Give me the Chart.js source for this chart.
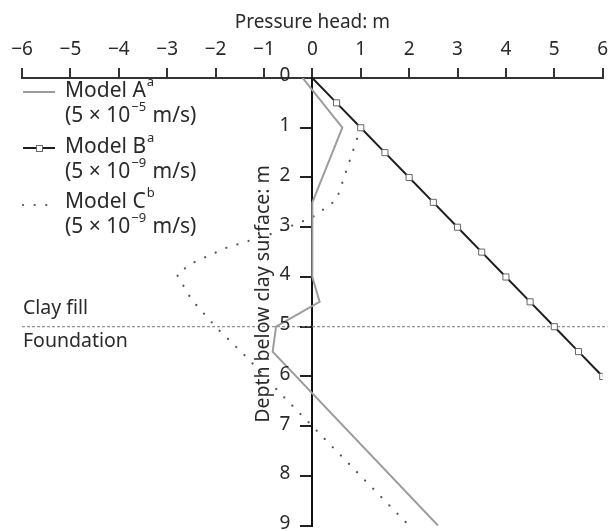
<!DOCTYPE html>
<html><head><meta charset="utf-8">
<script src="https://cdn.jsdelivr.net/npm/chart.js@4/dist/chart.umd.min.js"></script>
<style>html,body{margin:0;padding:0;background:#fff}#wrap{width:608px;height:531px}</style>
</head><body><div id="wrap"><canvas id="c" width="608" height="531"></canvas></div>
<script>
// ---- data ----
const xTickValues = [-6,-5,-4,-3,-2,-1,0,1,2,3,4,5,6];
const yTickValues = [0,1,2,3,4,5,6,7,8,9];
const modelA_head  = [-0.2, 0.62, 0.0, 0.0, 0.15, -0.75, -0.82, 2.6];
const modelA_depth = [0.0, 1.0, 2.5, 4.0, 4.5, 5.0, 5.5, 9.0];
const modelB_head  = [0,0.5,1,1.5,2,2.5,3,3.5,4,4.5,5,5.5,6];
const modelB_depth = [0,0.5,1,1.5,2,2.5,3,3.5,4,4.5,5,5.5,6];
const modelC_head  = [1.0, 0.5, 0.0, -0.8, -1.8, -2.5, -2.8, -2.5, -2.0, -1.33, -0.67, 0.22, 1.1, 2.0];
const modelC_depth = [1.0, 2.45, 2.8, 3.12, 3.42, 3.73, 3.95, 4.45, 5.0, 5.64, 6.33, 7.22, 8.1, 9.0];
const boundary_head  = [-6, 6.1];
const boundary_depth = [5, 5];
const legendNames = ['Model A', 'Model B', 'Model C'];
const legendSup   = ['a', 'a', 'b'];
const legendExp   = ['\u22125', '\u22129', '\u22129'];
const layerLabels = ['Clay fill', 'Foundation'];
const xTitle = 'Pressure head: m';
const yTitle = 'Depth below clay surface: m';

const FONT = "'Noto Sans', 'Open Sans', sans-serif";
const TXT = '#2a2a2a';
const pts = (xs, ys) => xs.map((x, i) => ({x, y: ys[i]}));

const overlay = {
  id: 'overlay',
  afterDraw(chart) {
    const ctx = chart.ctx;
    const ys = chart.scales.y;
    const xs = chart.scales.x;
    ctx.save();
    ctx.fillStyle = TXT;
    // y tick labels
    ctx.font = '19px ' + FONT;
    ctx.textAlign = 'right';
    ctx.textBaseline = 'middle';
    const ax = xs.getPixelForValue(0);
    yTickValues.forEach(v => ctx.fillText(String(v), ax - 22, ys.getPixelForValue(v) - 2));
    // y axis title
    ctx.save();
    ctx.translate(263, 294);
    ctx.rotate(-Math.PI / 2);
    ctx.font = '19.5px ' + FONT;
    ctx.textAlign = 'center';
    ctx.textBaseline = 'middle';
    ctx.fillText(yTitle, 0, 0);
    ctx.restore();
    // layer labels
    ctx.font = '19.5px ' + FONT;
    ctx.textAlign = 'left';
    ctx.textBaseline = 'middle';
    const by = ys.getPixelForValue(boundary_depth[0]);
    ctx.fillText(layerLabels[0], 23, by - 18);
    ctx.fillText(layerLabels[1], 23, by + 15);
    // legend
    const rows = [91, 147, 202];
    const ds = chart.data.datasets;
    rows.forEach((ry, i) => {
      const d = ds.find(s => s.label === legendNames[i]);
      ctx.save();
      ctx.strokeStyle = d.borderColor;
      ctx.lineWidth = d.borderWidth;
      ctx.lineCap = d.borderCapStyle || 'butt';
      if (d.borderDash) ctx.setLineDash(d.borderDash);
      ctx.beginPath();
      if (i === 2) { ctx.moveTo(23, ry + 3); ctx.lineTo(50, ry + 3); }
      else { ctx.moveTo(23, ry + 1); ctx.lineTo(55, ry + 1); }
      ctx.stroke();
      if (i === 1) {
        ctx.setLineDash([]);
        ctx.fillStyle = '#fff';
        ctx.strokeStyle = d.pointBorderColor;
        ctx.lineWidth = 1;
        ctx.fillRect(36, ry - 2, 6, 6);
        ctx.strokeRect(36.5, ry - 1.5, 6, 6);
      }
      ctx.restore();
      ctx.fillStyle = TXT;
      ctx.textBaseline = 'middle';
      ctx.textAlign = 'left';
      ctx.font = '21px ' + FONT;
      ctx.fillText(legendNames[i], 65, ry);
      let w = ctx.measureText(legendNames[i]).width;
      ctx.font = '13px ' + FONT;
      ctx.fillText(legendSup[i], 65 + w + 1, ry - 9);
      const l2 = ry + 25;
      ctx.font = '21px ' + FONT;
      const p1 = '(5 \u00d7 10';
      ctx.fillText(p1, 65, l2);
      w = ctx.measureText(p1).width;
      ctx.font = '13px ' + FONT;
      ctx.fillText(legendExp[i], 65 + w + 1, l2 - 9);
      const w2 = ctx.measureText(legendExp[i]).width;
      ctx.font = '21px ' + FONT;
      ctx.fillText(' m/s)', 65 + w + w2 + 2, l2);
    });
    ctx.restore();
  }
};

new Chart(document.getElementById('c'), {
  type: 'scatter',
  data: {
    datasets: [
      { label: 'Model B', data: pts(modelB_head, modelB_depth), showLine: true,
        borderColor: '#1e1e1e', borderWidth: 2, pointStyle: 'rect',
        pointRadius: modelB_head.map((v, i) => i === 0 ? 0 : 4.3),
        pointBackgroundColor: '#fff', pointBorderColor: '#666', pointBorderWidth: 1 },
      { label: 'Model A', data: pts(modelA_head, modelA_depth), showLine: true,
        borderColor: '#9c9c9c', borderWidth: 2, pointRadius: 0 },
      { label: 'Model C', data: pts(modelC_head, modelC_depth), showLine: true,
        borderColor: '#555', borderWidth: 2.2, borderDash: [0.1, 11.5], borderCapStyle: 'round',
        pointRadius: 0 },
      { label: 'boundary', data: pts(boundary_head, boundary_depth), showLine: true,
        borderColor: '#777', borderWidth: 1, borderDash: [3, 2], pointRadius: 0, clip: false }
    ]
  },
  options: {
    responsive: false, animation: false, devicePixelRatio: 1,
    layout: { padding: { left: 22, right: 5, top: 0, bottom: 3 } },
    plugins: { legend: { display: false }, tooltip: { enabled: false } },
    scales: {
      x: {
        type: 'linear', position: 'top', min: -6, max: 6,
        afterBuildTicks: s => { s.ticks = xTickValues.map(v => ({value: v})); },
        afterFit: s => { s.paddingLeft = 0; s.paddingRight = 0; s.height = 78; },
        ticks: { padding: 7, color: TXT, font: { size: 19, family: FONT },
          callback: v => v < 0 ? '\u2212' + Math.abs(v) : String(v) },
        grid: { drawOnChartArea: false, tickLength: 10, color: '#333', lineWidth: 2 },
        border: { color: '#333', width: 2 },
        title: { display: true, text: xTitle, color: TXT, font: { size: 19, family: FONT },
          padding: { top: 11, bottom: 4 } }
      },
      y: {
        type: 'linear', position: { x: 0 }, reverse: true, min: 0, max: 9,
        afterBuildTicks: s => { s.ticks = yTickValues.map(v => ({value: v})); },
        afterFit: s => { s.paddingTop = 0; s.paddingBottom = 0; },
        ticks: { display: false },
        grid: { drawOnChartArea: false, tickLength: 11, color: '#222', lineWidth: 2 },
        border: { color: '#111', width: 2 },
        title: { display: false }
      }
    }
  },
  plugins: [overlay]
});
</script></body></html>
